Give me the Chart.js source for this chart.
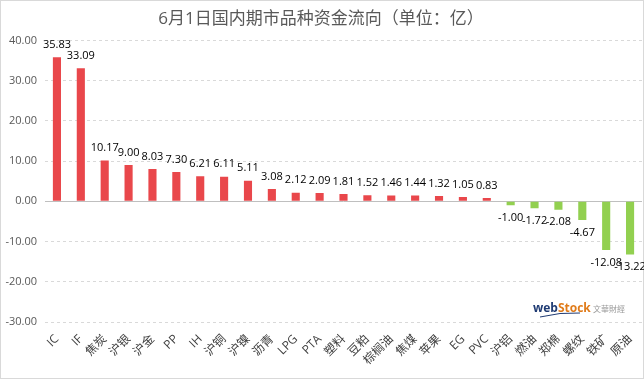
<!DOCTYPE html>
<html><head><meta charset="utf-8">
<script src="https://cdn.jsdelivr.net/npm/chart.js@4/dist/chart.umd.min.js"></script>
<style>html,body{margin:0;padding:0;background:#fff;}canvas{display:block;}</style>
</head><body>
<canvas id="c" width="644" height="379"></canvas>
<script>
const categories = ["IC","IF","焦炭","沪银","沪金","PP","IH","沪铜","沪镍","沥青","LPG","PTA","塑料","豆粕","棕榈油","焦煤","苹果","EG","PVC","沪铝","燃油","郑棉","螺纹","铁矿","原油"];
const values = [35.83,33.09,10.17,9.00,8.03,7.30,6.21,6.11,5.11,3.08,2.12,2.09,1.81,1.52,1.46,1.44,1.32,1.05,0.83,-1.00,-1.72,-2.08,-4.67,-12.08,-13.22];
const yTicks = [40,30,20,10,0,-10,-20,-30];
const titleText = "6月1日国内期市品种资金流向（单位：亿）";

const FONT = "'Open Sans','Noto Sans CJK SC',sans-serif";

const bgPlugin = {
  id:'bg',
  beforeDraw(chart){
    const c = chart.ctx;
    c.save(); c.fillStyle='#fff'; c.fillRect(0,0,chart.width,chart.height);
    c.strokeStyle='#d9d9d9'; c.lineWidth=1; c.strokeRect(0.5,0.5,chart.width-1,chart.height-1);
    c.restore();
  },
  beforeDatasetsDraw(chart){
    const c = chart.ctx, y = chart.scales.y.getPixelForValue(0), a = chart.chartArea;
    c.save(); c.strokeStyle='#bfbfbf'; c.lineWidth=1;
    c.beginPath(); c.moveTo(a.left, Math.round(y)+0.5); c.lineTo(a.right, Math.round(y)+0.5); c.stroke();
    c.restore();
  },
  afterDatasetsDraw(chart){
    const c = chart.ctx;
    const meta = chart.getDatasetMeta(0);
    c.save();
    c.font = "11px " + FONT; c.fillStyle = '#000'; c.textAlign='center';
    meta.data.forEach((bar,i)=>{
      const v = values[i];
      if (v >= 0) { c.textBaseline='bottom'; c.fillText(v.toFixed(2), bar.x, bar.y-7); }
      else { c.textBaseline='top'; c.fillText(v.toFixed(2), bar.x, bar.y+7); }
    });
    // watermark
    c.textAlign='left'; c.textBaseline='alphabetic';
    c.font = "bold 12px " + FONT;
    c.fillStyle = '#1f3b73'; c.fillText('web', 533, 312);
    const w = c.measureText('web').width;
    c.fillStyle = '#e07b1a'; c.fillText('Stock', 533+w, 312);
    c.strokeStyle = '#1f3b73'; c.lineWidth = 1;
    c.beginPath(); c.moveTo(540, 317); c.quadraticCurveTo(560, 312, 580, 313); c.stroke();
    c.font = "8px 'Noto Sans CJK TC',sans-serif"; c.fillStyle='#999';
    c.fillText('文華財經', 593, 312);
    c.restore();
  }
};

new Chart(document.getElementById('c'), {
  type:'bar',
  data:{
    labels: categories,
    datasets:[{
      data: values,
      backgroundColor: values.map(v => v >= 0 ? '#e9474b' : '#92d050'),
      barPercentage: 0.34,
      categoryPercentage: 1.0
    }]
  },
  plugins:[bgPlugin],
  options:{
    responsive:false,
    animation:false,
    layout:{padding:{left:0,right:2,top:0,bottom:0}},
    plugins:{
      legend:{display:false},
      tooltip:{enabled:false},
      title:{display:true,text:titleText,color:'#595959',font:{size:17,family:FONT,weight:'normal'},padding:{top:9,bottom:11}}
    },
    scales:{
      x:{
        grid:{display:false},
        border:{display:false},
        ticks:{color:'#404040',font:{size:12,family:FONT},minRotation:45,maxRotation:45,autoSkip:false,padding:2},
        afterFit(s){ s.height = 57; }
      },
      y:{
        min:-30,max:40,
        afterBuildTicks(s){ s.ticks = yTicks.map(v=>({value:v})); },
        grid:{color:'#d9d9d9',drawTicks:false},
        border:{display:false,dash:[3,3]},
        ticks:{color:'#595959',font:{size:11,family:FONT},padding:8,callback:v=>Number(v).toFixed(2)},
        afterFit(s){ s.width = 45; }
      }
    }
  }
});
</script>
</body></html>
